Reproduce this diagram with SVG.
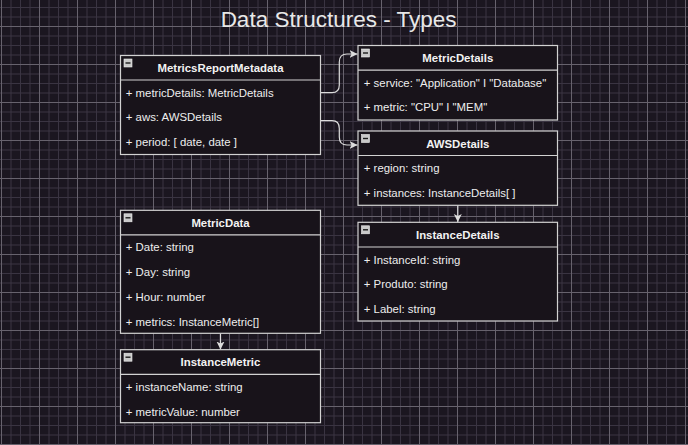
<svg xmlns="http://www.w3.org/2000/svg" width="688" height="445" viewBox="0 0 688 445">
<defs>
<pattern id="grid" x="1" y="26" width="38" height="38" patternUnits="userSpaceOnUse">
<rect x="0" y="0" width="38" height="38" fill="#1b1620"/>
<g fill="#3a3442">
<rect x="9.5" y="0" width="1" height="38"/>
<rect x="19" y="0" width="1" height="38"/>
<rect x="28.5" y="0" width="1" height="38"/>
<rect x="0" y="9.5" width="38" height="1"/>
<rect x="0" y="19" width="38" height="1"/>
<rect x="0" y="28.5" width="38" height="1"/>
</g>
<g fill="#67626d">
<rect x="0" y="0" width="1" height="38"/>
<rect x="0" y="0" width="38" height="1"/>
</g>
</pattern>
<marker id="arr" markerUnits="userSpaceOnUse" markerWidth="9" markerHeight="9" refX="8" refY="4" orient="auto" viewBox="0 0 9 8">
<path d="M0,0 L8,4 L0,8 L2,4 Z" fill="#dcdcdc"/>
</marker>
<g id="minus">
<rect x="0" y="0" width="8" height="8" fill="#c9c9c9" stroke="#eeeeee" stroke-width="0.6"/>
<line x1="1.5" y1="4" x2="6.5" y2="4" stroke="#1a1a1a" stroke-width="1.4"/>
</g>
</defs>
<style>
.box{fill:#18131a;stroke:#d2d2d2;stroke-width:1.2}
.div{stroke:#d2d2d2;stroke-width:1.2}
.hd{font-family:"Liberation Sans",Arial,sans-serif;font-size:11.4px;font-weight:bold;fill:#f2f2f2;text-anchor:middle}
.row{font-family:"Liberation Sans",Arial,sans-serif;font-size:11.4px;fill:#eeeeee}
.title{font-family:"Liberation Sans",Arial,sans-serif;font-size:22.5px;fill:#e8e8e8;text-anchor:middle}
.conn{fill:none;stroke:#dcdcdc;stroke-width:1.2}
</style>
<rect x="0" y="0" width="688" height="445" fill="url(#grid)"/>
<text class="title" x="338.6" y="27.3">Data Structures - Types</text>

<g id="connectors">
<path class="conn" d="M320.5,92.7 L332,92.7 C337,92.7 339.3,90 339.3,85 L339.3,62 C339.3,57 342,54 347,54 L357.5,54" marker-end="url(#arr)"/>
<path class="conn" d="M320.5,120.7 L332,120.7 C337,120.7 339.3,123.5 339.3,128.5 L339.3,137 C339.3,142 342,145 347,145 L357.5,145" marker-end="url(#arr)"/>
<path class="conn" d="M457.8,205.3 L457.8,222" marker-end="url(#arr)"/>
<path class="conn" d="M220.5,333.3 L220.5,349.5" marker-end="url(#arr)"/>
</g>

<g id="MetricsReportMetadata">
<rect class="box" x="120.5" y="55.5" width="200" height="99"/>
<line class="div" x1="120.5" y1="80" x2="320.5" y2="80"/>
<use href="#minus" x="124" y="59"/>
<text class="hd" x="220.5" y="72">MetricsReportMetadata</text>
<text class="row" x="125.8" y="96.7">+ metricDetails: MetricDetails</text>
<text class="row" x="125.8" y="121">+ aws: AWSDetails</text>
<text class="row" x="125.8" y="145.8">+ period: [ date, date ]</text>
</g>

<g id="MetricDetails">
<rect class="box" x="358" y="45.5" width="199.5" height="74.5"/>
<line class="div" x1="358" y1="70.2" x2="557.5" y2="70.2"/>
<use href="#minus" x="361.5" y="49"/>
<text class="hd" x="457.8" y="62">MetricDetails</text>
<text class="row" x="363.8" y="86.7">+ service: "Application" I "Database"</text>
<text class="row" x="363.8" y="111.2">+ metric: "CPU" I "MEM"</text>
</g>

<g id="AWSDetails">
<rect class="box" x="358" y="131" width="199.5" height="74.3"/>
<line class="div" x1="358" y1="155.5" x2="557.5" y2="155.5"/>
<use href="#minus" x="361.5" y="134.5"/>
<text class="hd" x="457.8" y="147.5">AWSDetails</text>
<text class="row" x="363.8" y="172.4">+ region: string</text>
<text class="row" x="363.8" y="196.6">+ instances: InstanceDetails[ ]</text>
</g>

<g id="InstanceDetails">
<rect class="box" x="358" y="222.3" width="199.5" height="98.7"/>
<line class="div" x1="358" y1="247" x2="557.5" y2="247"/>
<use href="#minus" x="361.5" y="225.8"/>
<text class="hd" x="457.8" y="238.8">InstanceDetails</text>
<text class="row" x="363.8" y="263.5">+ InstanceId: string</text>
<text class="row" x="363.8" y="288.1">+ Produto: string</text>
<text class="row" x="363.8" y="312.8">+ Label: string</text>
</g>

<g id="MetricData">
<rect class="box" x="120.5" y="210.3" width="200" height="123"/>
<line class="div" x1="120.5" y1="234.8" x2="320.5" y2="234.8"/>
<use href="#minus" x="124" y="213.8"/>
<text class="hd" x="220.5" y="226.8">MetricData</text>
<text class="row" x="125.8" y="251.4">+ Date: string</text>
<text class="row" x="125.8" y="276.1">+ Day: string</text>
<text class="row" x="125.8" y="300.8">+ Hour: number</text>
<text class="row" x="125.8" y="325.5">+ metrics: InstanceMetric[]</text>
</g>

<g id="InstanceMetric">
<rect class="box" x="120.5" y="349.7" width="200" height="73"/>
<line class="div" x1="120.5" y1="374.3" x2="320.5" y2="374.3"/>
<use href="#minus" x="124" y="353.2"/>
<text class="hd" x="220.5" y="366.2">InstanceMetric</text>
<text class="row" x="125.8" y="390.8">+ instanceName: string</text>
<text class="row" x="125.8" y="415.5">+ metricValue: number</text>
</g>
</svg>
